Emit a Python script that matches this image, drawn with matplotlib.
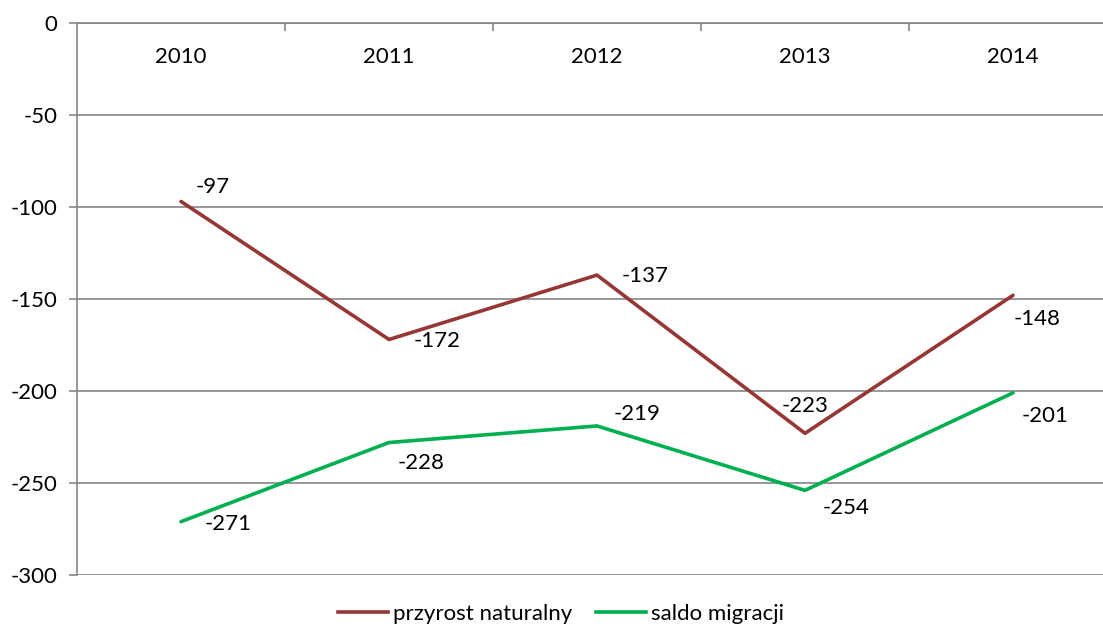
import matplotlib
matplotlib.use("Agg")
import matplotlib.pyplot as plt
from matplotlib.lines import Line2D

years = ["2010", "2011", "2012", "2013", "2014"]
przyrost = [-97, -172, -137, -223, -148]
saldo = [-271, -228, -219, -254, -201]
series_names = ["przyrost naturalny", "saldo migracji"]
y_ticks = [0, -50, -100, -150, -200, -250, -300]

# label offsets in pixels (dx, dy)
off_p = [(32, 14), (48, -2), (48, -1), (0, 27), (24, -24)]
off_s = [(47, -2), (32, -20), (40, 12), (41, -18), (32, -23)]

plt.rcParams['font.family'] = ['Lato', 'DejaVu Sans']
W, H = 1103, 628
fig = plt.figure(figsize=(W/100, H/100), dpi=100)
left, right, top, bottom = 77, 1117, 23, 575
ax = fig.add_axes([left/W, 1-bottom/H, (right-left)/W, (bottom-top)/H])

red = "#953735"
green = "#00B050"
gray = "#868686"
x = list(range(len(years)))
ax.plot(x, przyrost, color=red, lw=2.6, solid_capstyle='round')
ax.plot(x, saldo, color=green, lw=2.6, solid_capstyle='round')

fs = 16
for i, v in enumerate(przyrost):
    ax.annotate(str(v), (i, v), xytext=off_p[i], textcoords='offset pixels',
                ha='center', va='center', fontsize=fs, color='black')
for i, v in enumerate(saldo):
    ax.annotate(str(v), (i, v), xytext=off_s[i], textcoords='offset pixels',
                ha='center', va='center', fontsize=fs, color='black')

ax.set_xlim(-0.5, len(years)-0.5)
ax.set_ylim(-300, 0)
ax.set_yticks(y_ticks)
ax.set_yticklabels([str(t) for t in y_ticks], fontsize=fs)
ax.yaxis.grid(True, color=gray, lw=1.2)
ax.set_axisbelow(True)

ax.xaxis.set_ticks_position('top')
ax.set_xticks([i + 0.5 for i in range(len(years))], minor=False)
ax.set_xticklabels([])
ax.tick_params(axis='x', direction='in', length=6, width=1.2, color=gray)
ax.tick_params(axis='y', direction='out', length=6, width=1.2, color=gray, pad=8)
for i, yr in enumerate(years):
    ax.annotate(yr, (i, 1), xycoords=('data', 'axes fraction'), xytext=(0, -34),
                textcoords='offset pixels', ha='center', va='center', fontsize=fs)

for s in ['right', 'bottom']:
    ax.spines[s].set_visible(False)
for s in ['left', 'top']:
    ax.spines[s].set_color(gray)
    ax.spines[s].set_linewidth(1.2)

handles = [Line2D([], [], color=red, lw=2.6), Line2D([], [], color=green, lw=2.6)]
fig.legend(handles, series_names, loc='center', bbox_to_anchor=(561/W, 1-614/H),
           ncol=2, frameon=False, fontsize=fs, handlelength=2.25, handletextpad=0.23,
           columnspacing=1.08)

fig.savefig("out.png", dpi=100)
